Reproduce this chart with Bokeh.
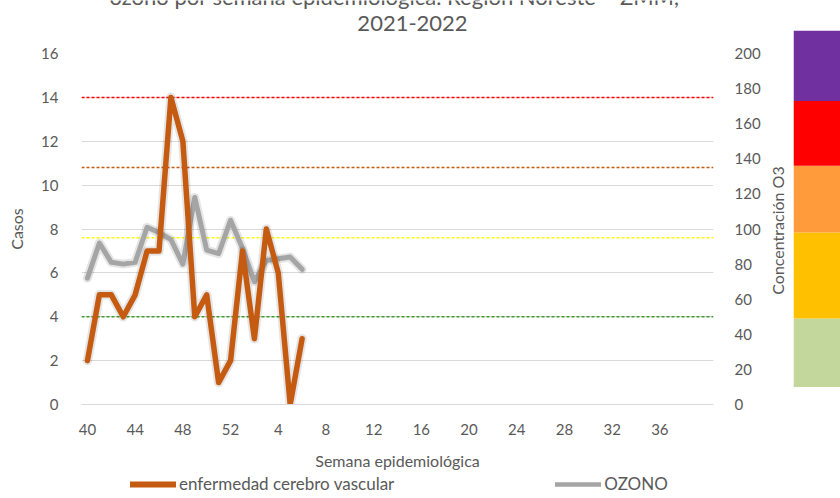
import math
from bokeh.plotting import figure
from bokeh.models import (Range1d, LinearAxis, SingleIntervalTicker, FixedTicker, Span,
                          Legend, LegendItem, ColumnDataSource)
from bokeh.layouts import row, column
from bokeh.core.properties import value
from bokeh.embed import file_html
from bokeh.resources import INLINE

# ---------------- data ----------------
semanas = ["40", "41", "42", "43", "44", "45", "46", "47", "48", "49", "50", "51", "52",
           "1", "2", "3", "4", "5", "6", "7", "8", "9", "10", "11", "12", "13", "14", "15",
           "16", "17", "18", "19", "20", "21", "22", "23", "24", "25", "26", "27", "28", "29",
           "30", "31", "32", "33", "34", "35", "36", "37", "38", "39", "40"]
etiquetas_x = ["40", "44", "48", "52", "4", "8", "12", "16", "20", "24", "28", "32", "36"]

casos_ecv = [2, 5, 5, 4, 5, 7, 7, 14, 12, 4, 5, 1, 2, 7, 3, 8, 6, 0, 3]
ozono = [72, 92, 81, 80, 81, 101, 98, 94, 80, 118, 88, 86, 105, 89, 70, 82, 83, 84, 77]

umbrales_o3 = [50, 95, 135, 175]
umbral_colores = ["#3E9B2B", "#FFFF00", "#C55A11", "#FF0000"]

escala_limites = [10, 49, 98, 136, 173, 213]
escala_colores = ["#C3D69B", "#FFC000", "#FF9B3B", "#FF0000", "#7030A0"]

titulo_1 = "ozono por semana epidemiológica. Región Noreste – ZMM,"
titulo_2 = "2021-2022"
eje_izq = "Casos"
eje_der = "Concentración O3"
eje_x = "Semana epidemiológica"
serie_1 = "enfermedad cerebro vascular"
serie_2 = "OZONO"

TXT = "#595959"
FONT = "Lato"
C_ECV = "#C55A11"
C_O3 = "#A5A5A5"

# ---------------- layout constants (pixels on the page) ----------------
W_MAIN, W_LAB, W_CB, H_ALL = 768, 25, 47, 498
H_TIT, H_LEG = 36, 24
H_MAIN = H_ALL - H_TIT - H_LEG
FR_LEFT, FR_RIGHT = 81, 713
FR_TOP, FR_BOTTOM = 53, 404


def strip(w, h, xr, yr):
    f = figure(width=w, height=h, output_backend="svg", toolbar_location=None,
               x_range=xr, y_range=yr, x_axis_type=None, y_axis_type=None, min_border=0)
    f.outline_line_color = None
    f.grid.visible = False
    return f


# ---------------- title strip (its frame is aligned with the chart's frame) ----------------
tfig = strip(W_MAIN, H_TIT, Range1d(FR_LEFT, FR_RIGHT), Range1d(0, H_TIT))
tfig.text(x=[394], y=[H_TIT + 4], text=[titulo_1], text_align="center",
          text_baseline="middle", text_font=value(FONT), text_font_size="22px",
          text_color=TXT)
tfig.text(x=[412], y=[H_TIT - 23], text=[titulo_2], text_align="center",
          text_baseline="middle", text_font=value(FONT), text_font_size="22px",
          text_color=TXT)

# ---------------- main chart ----------------
src = ColumnDataSource(dict(x=list(range(len(casos_ecv))), casos=casos_ecv, ozono=ozono))

p = figure(width=W_MAIN, height=H_MAIN, output_backend="svg", toolbar_location=None,
           x_range=Range1d(-0.5, len(semanas) - 0.5), y_range=Range1d(0, 16),
           min_border_left=FR_LEFT, min_border_right=W_MAIN - FR_RIGHT,
           min_border_top=FR_TOP - H_TIT, min_border_bottom=H_TIT + H_MAIN - FR_BOTTOM)
p.extra_y_ranges = {"o3": Range1d(0, 200)}
p.outline_line_color = None
p.xgrid.grid_line_color = None
p.ygrid.grid_line_color = "#D9D9D9"
p.ygrid.grid_line_width = 1

tick_pos = [semanas.index(e) if i < 4 else semanas.index(e, 13) for i, e in enumerate(etiquetas_x)]
p.xaxis.ticker = FixedTicker(ticks=tick_pos)
p.xaxis.major_label_overrides = {t: e for t, e in zip(tick_pos, etiquetas_x)}
p.xaxis.axis_label = eje_x
p.xaxis.major_label_standoff = 19
p.xaxis.axis_label_standoff = 13
p.xaxis.axis_line_color = "#D9D9D9"

p.yaxis.ticker = SingleIntervalTicker(interval=2)
p.yaxis.axis_label = eje_izq
p.yaxis.major_label_standoff = 19
p.yaxis.axis_label_standoff = 12
p.yaxis.axis_line_color = None

ax_r = LinearAxis(y_range_name="o3", ticker=SingleIntervalTicker(interval=20))
ax_r.major_label_standoff = 17
ax_r.axis_line_color = None
p.add_layout(ax_r, "right")

for ax in [p.xaxis[0], p.yaxis[0], ax_r]:
    ax.major_tick_line_color = None
    ax.minor_tick_line_color = None
    ax.major_tick_out = 0
    ax.major_tick_in = 0
    ax.major_label_text_color = TXT
    ax.major_label_text_font = FONT
    ax.major_label_text_font_size = "15px"
    ax.axis_label_text_color = TXT
    ax.axis_label_text_font = FONT
    ax.axis_label_text_font_size = "16px"
    ax.axis_label_text_font_style = "normal"

for v, c in zip(umbrales_o3, umbral_colores):
    p.add_layout(Span(location=v, dimension="width", y_range_name="o3", line_color=c,
                      line_width=1.5, line_dash="3 2", level="underlay"))

p.line("x", "ozono", source=src, y_range_name="o3", line_color="black", line_alpha=0.10,
       line_width=9, line_join="round", line_cap="round")
p.line("x", "ozono", source=src, y_range_name="o3", line_color=C_O3,
       line_width=5, line_join="round", line_cap="round")
p.line("x", "casos", source=src, line_color="black", line_alpha=0.10, line_width=9.5,
       line_join="round", line_cap="round")
p.line("x", "casos", source=src, line_color=C_ECV, line_width=5.5,
       line_join="round", line_cap="round")

# ---------------- legend strip (frame aligned with the chart's frame) ----------------
lfig = strip(W_MAIN, H_LEG, Range1d(0, 1), Range1d(0, 1))
nan = float("nan")
g1 = lfig.line(x=[nan], y=[nan], line_color=C_ECV, line_width=6, line_cap="round")
g2 = lfig.line(x=[nan], y=[nan], line_color=C_O3, line_width=4.5, line_cap="round")
legend = Legend(items=[LegendItem(label=serie_1, renderers=[g1]),
                       LegendItem(label=serie_2, renderers=[g2])],
                orientation="horizontal", location=(130 - FR_LEFT, 4), spacing=161,
                glyph_width=46, glyph_height=16, label_height=16, label_standoff=3,
                padding=0, margin=0, border_line_color=None, background_fill_alpha=0,
                label_text_font=FONT, label_text_font_size="17px", label_text_color=TXT)
lfig.add_layout(legend)

# ---------------- right axis title strip ----------------
labfig = strip(W_LAB, H_ALL, Range1d(0, W_LAB), Range1d(0, H_ALL))
labfig.text(x=[9], y=[H_ALL - 230], text=[eje_der], angle=math.pi / 2,
            text_align="center", text_baseline="middle", text_font=value(FONT),
            text_font_size="16px", text_color=TXT)

# ---------------- colour scale on the right ----------------
px_per = (FR_BOTTOM - FR_TOP) / 200.0
cb = strip(W_CB, H_ALL, Range1d(0, 1),
           Range1d(-(H_ALL - FR_BOTTOM) / px_per, FR_BOTTOM / px_per))
cb.quad(left=0, right=1, bottom=escala_limites[:-1], top=escala_limites[1:],
        fill_color=escala_colores, line_color=None)

layout = row(column(tfig, p, lfig), labfig, cb)
open("out.html", "w").write(file_html(layout, INLINE))
